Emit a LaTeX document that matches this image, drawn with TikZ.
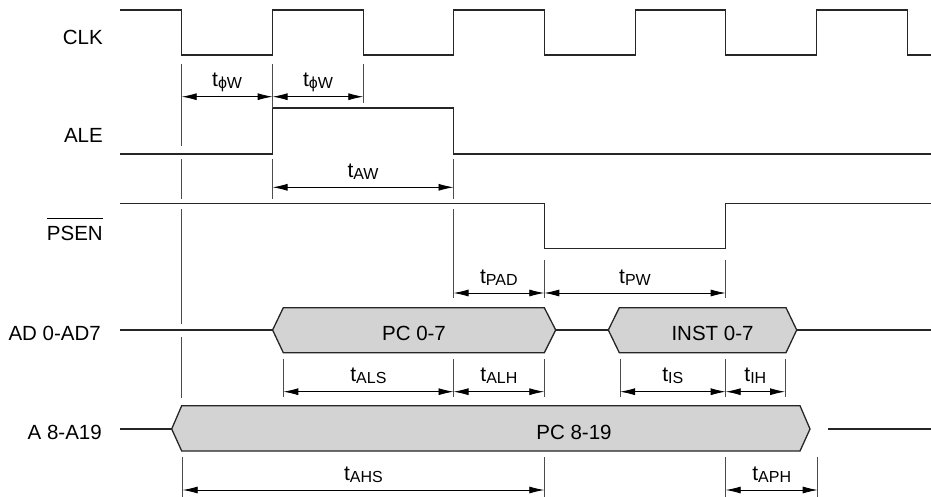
\documentclass[tikz,border=0pt]{standalone}
\usepackage{fontspec}
\setmainfont{Liberation Sans}
\usepackage{tikz}
\usetikzlibrary{arrows.meta,positioning}
\definecolor{busgray}{RGB}{211, 211, 211}
\tikzstyle{sig} = [line width=1.3pt, draw=black!85]
\tikzstyle{bus} = [line width=1.3pt, draw=black!85, fill=busgray]
\tikzstyle{tick} = [line width=0.8pt, draw=black!70]
\tikzstyle{dim}  = [draw, line width=0.8pt, black, {Latex[length=15pt,width=7pt]}-{Latex[length=15pt,width=7pt]}]
\tikzstyle{lbl} = [anchor=base east, inner sep=0pt, font=\fontsize{20.5}{24}\selectfont]
\tikzstyle{bustxt} = [anchor=base, inner sep=0pt, font=\fontsize{20.5}{24}\selectfont]
\tikzstyle{tlbl} = [anchor=base, inner sep=0pt, yshift=10pt, font=\fontsize{21}{24}\selectfont]
\newcommand{\tsub}[1]{t\raisebox{-2pt}{\fontsize{16}{16}\selectfont #1}}

\begin{document}
\begin{tikzpicture}[x=1pt,y=-1pt]
\useasboundingbox (0,0) rectangle (931,497);

% signal names =============================
\node[lbl] (clk) at (103,45) {CLK};
\node[lbl] (ale) at (103,143) {ALE};
\node[lbl] (psen) at (103,240.7) {PSEN};
\node[lbl] (ad) at (101,340) {AD 0-AD7};
\node[lbl] (adr) at (102,439) {A 8-A19};
\draw[line width=1.1pt] ([yshift=7.5pt]psen.north west) -- ([yshift=7.5pt]psen.north east);

% waveforms
\draw[sig] (120,10) -- (181.7,10) |- (272.6,55) |- (363.3,10) |- (453.5,55) |- (544.3,10)
  |- (635.2,55) |- (725.7,10) |- (816.6,55) |- (907.3,10) |- (931,55);
\draw[sig] (120,154) -- (272.6,154) |- (453.5,108) |- (931,154);
\draw[sig] (120,203.3) -- (544.3,203.3) |- (725.7,248.3) |- (931,203.3);

% busses
\draw[sig] (120,330) -- (272.6,330);
\draw[bus] (272.6,330) -- (283.3,307.7) -- (544.3,307.7) -- (555.7,330) -- (544.3,352.7) -- (283.3,352.7) -- cycle;
\draw[sig] (555.7,330) -- (608.3,330);
\draw[bus] (608.3,330) -- (619.3,307.7) -- (786,307.7) -- (796.7,330) -- (786,352.7) -- (619.3,352.7) -- cycle;
\draw[sig] (796.7,330) -- (931,330);
\node[bustxt] (pclo) at (414,340) {PC 0-7};
\node[bustxt] (inst) at (712.5,340) {INST 0-7};

\draw[sig] (120,429) -- (171.7,429);
\draw[bus] (171.7,429) -- (181.7,405.7) -- (800,405.7) -- (810,429) -- (800,451) -- (181.7,451) -- cycle;
\draw[sig] (828.3,429) -- (931,429);
\node[bustxt] (pchi) at (574,439) {PC 8-19};

% ticks =============================
\draw[tick] (181.7,64) -- (181.7,146);
\draw[tick] (181.7,159) -- (181.7,199);
\draw[tick] (181.7,209) -- (181.7,324);
\draw[tick] (181.7,337) -- (181.7,398);
\draw[tick] (272.6,64) -- (272.6,108);
\draw[tick] (363.3,64) -- (363.3,103);
\draw[tick] (272.6,159) -- (272.6,199);
\draw[tick] (453.5,159) -- (453.5,199);
\draw[tick] (453.5,209) -- (453.5,298);
\draw[tick] (544.3,260) -- (544.3,298);
\draw[tick] (725.7,260) -- (725.7,298);
\foreach \x in {283.3,453.5,544.3,620,725.7,785}
  \draw[tick] (\x,359) -- (\x,397);
\foreach \x in {182.7,544.3,725.7,817.7}
  \draw[tick] (\x,457) -- (\x,497);

% dimension ends
\coordinate (phA) at (181.7,96.7);
\coordinate (phB) at (272.6,96.7);
\coordinate (phC) at (363.3,96.7);
\coordinate (awA) at (272.6,187.3);
\coordinate (awB) at (453.5,187.3);
\coordinate (pdA) at (453.5,293);
\coordinate (pdB) at (544.3,293);
\coordinate (pdC) at (725.7,293);
\coordinate (alA) at (283.3,391.7);
\coordinate (alB) at (453.5,391.7);
\coordinate (alC) at (544.3,391.7);
\coordinate (isA) at (620,391.7);
\coordinate (isB) at (725.7,391.7);
\coordinate (isC) at (785,391.7);
\coordinate (ahA) at (182.7,490);
\coordinate (ahB) at (544.3,490);
\coordinate (apA) at (725.7,490);
\coordinate (apB) at (817.7,490);

% timings
\path[dim] (phA) -- node[tlbl] (tph1) {\tsub{ϕW}} (phB);
\path[dim] (phB) -- node[tlbl] (tph2) {\tsub{ϕW}} (phC);
\path[dim] (awA) -- node[tlbl] (taw) {\tsub{AW}} (awB);
\path[dim] (pdA) -- node[tlbl] (tpad) {\tsub{PAD}} (pdB);
\path[dim] (pdB) -- node[tlbl] (tpw) {\tsub{PW}} (pdC);
\path[dim] (alA) -- node[tlbl] (tals) {\tsub{ALS}} (alB);
\path[dim] (alB) -- node[tlbl] (talh) {\tsub{ALH}} (alC);
\path[dim] (isA) -- node[tlbl] (tis) {\tsub{IS}} (isB);
\path[dim] (isB) -- node[tlbl] (tih) {\tsub{IH}} (isC);
\path[dim] (ahA) -- node[tlbl] (tahs) {\tsub{AHS}} (ahB);
\path[dim] (apA) -- node[tlbl] (taph) {\tsub{APH}} (apB);

\end{tikzpicture}
\end{document}
